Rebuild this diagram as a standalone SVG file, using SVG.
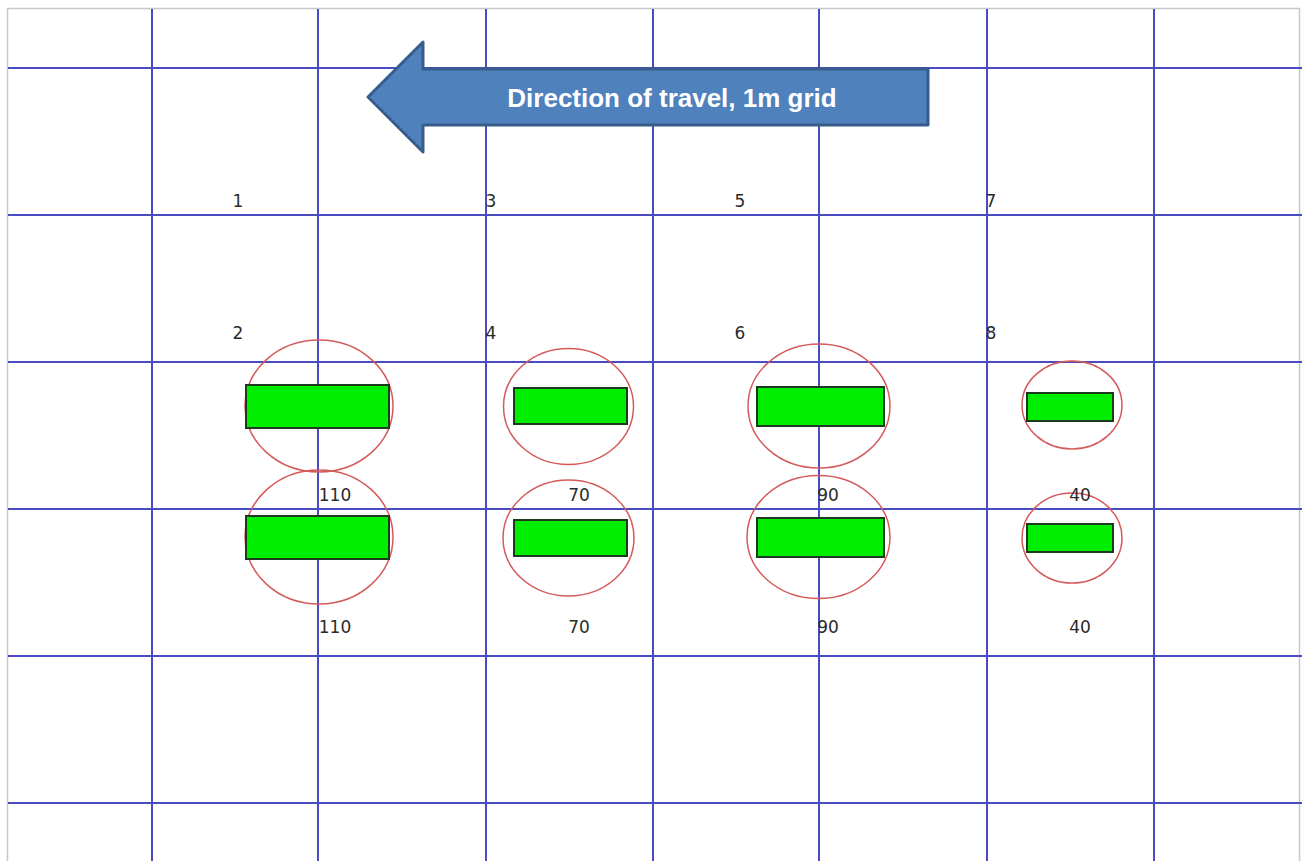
<svg xmlns="http://www.w3.org/2000/svg" width="1302" height="861" viewBox="0 0 1302 861">
<style>
.grid line{stroke:#4a4ac2;stroke-width:2}
.ring{fill:none;stroke:#d45a5a;stroke-width:1.5}
.bar{fill:#00ee00;stroke:#1e3a1e;stroke-width:2}
.lbl{font-family:"DejaVu Sans",Verdana,sans-serif;font-size:17px;fill:#2a2a2a;text-anchor:middle;dominant-baseline:central}
.arrowtxt{font-family:"Liberation Sans",Arial,sans-serif;font-size:26px;font-weight:bold;fill:#ffffff;text-anchor:middle;dominant-baseline:central}
</style>
<rect x="0" y="0" width="1302" height="861" fill="#ffffff"/>
<path d="M7.5,861 V8.5 H1299.5 V861" fill="none" stroke="#c8c8c8" stroke-width="1.5"/>
<g id="grid" class="grid">
<line x1="8" y1="68" x2="1302" y2="68"/>
<line x1="8" y1="215" x2="1302" y2="215"/>
<line x1="8" y1="362" x2="1302" y2="362"/>
<line x1="8" y1="509" x2="1302" y2="509"/>
<line x1="8" y1="656" x2="1302" y2="656"/>
<line x1="8" y1="803" x2="1302" y2="803"/>
<line x1="152" y1="9" x2="152" y2="861"/>
<line x1="318" y1="9" x2="318" y2="861"/>
<line x1="486" y1="9" x2="486" y2="861"/>
<line x1="653" y1="9" x2="653" y2="861"/>
<line x1="819" y1="9" x2="819" y2="861"/>
<line x1="987" y1="9" x2="987" y2="861"/>
<line x1="1154" y1="9" x2="1154" y2="861"/>
</g>
<g id="arrow">
<path d="M368,97 L423,42 L423,69 L928,69 L928,125 L423,125 L423,152 Z" fill="#4f81bd" stroke="#385d8a" stroke-width="3" stroke-linejoin="round"/>
<text class="arrowtxt" x="672" y="98">Direction of travel, 1m grid</text>
</g>
<g id="labels">
<text class="lbl" x="238" y="201">1</text>
<text class="lbl" x="491" y="201">3</text>
<text class="lbl" x="740" y="201">5</text>
<text class="lbl" x="991" y="201">7</text>
<text class="lbl" x="238" y="333">2</text>
<text class="lbl" x="491" y="333">4</text>
<text class="lbl" x="740" y="333">6</text>
<text class="lbl" x="991" y="333">8</text>
</g>
<g id="item-110-top"><ellipse class="ring" cx="319" cy="406" rx="74" ry="66"/><rect class="bar" x="246" y="385" width="143" height="43"/></g>
<g id="item-110-bottom"><ellipse class="ring" cx="319" cy="537" rx="74" ry="67"/><rect class="bar" x="246" y="516" width="143" height="43"/></g>
<g id="item-70-top"><ellipse class="ring" cx="568.5" cy="406.5" rx="65" ry="58"/><rect class="bar" x="514" y="388" width="113" height="36"/></g>
<g id="item-70-bottom"><ellipse class="ring" cx="568.5" cy="538" rx="65.5" ry="58"/><rect class="bar" x="514" y="520" width="113" height="36"/></g>
<g id="item-90-top"><ellipse class="ring" cx="819" cy="406" rx="71" ry="62"/><rect class="bar" x="757" y="387" width="127" height="39"/></g>
<g id="item-90-bottom"><ellipse class="ring" cx="818.5" cy="537" rx="71.5" ry="61.5"/><rect class="bar" x="757" y="518" width="127" height="39"/></g>
<g id="item-40-top"><ellipse class="ring" cx="1072" cy="405" rx="50" ry="44"/><rect class="bar" x="1027" y="393" width="86" height="28"/></g>
<g id="item-40-bottom"><ellipse class="ring" cx="1072" cy="538" rx="50" ry="45"/><rect class="bar" x="1027" y="524" width="86" height="28"/></g>
<g id="values">
<text class="lbl" x="335" y="495">110</text>
<text class="lbl" x="335" y="627">110</text>
<text class="lbl" x="579" y="495">70</text>
<text class="lbl" x="579" y="627">70</text>
<text class="lbl" x="828" y="495">90</text>
<text class="lbl" x="828" y="627">90</text>
<text class="lbl" x="1080" y="495">40</text>
<text class="lbl" x="1080" y="627">40</text>
</g>
</svg>
